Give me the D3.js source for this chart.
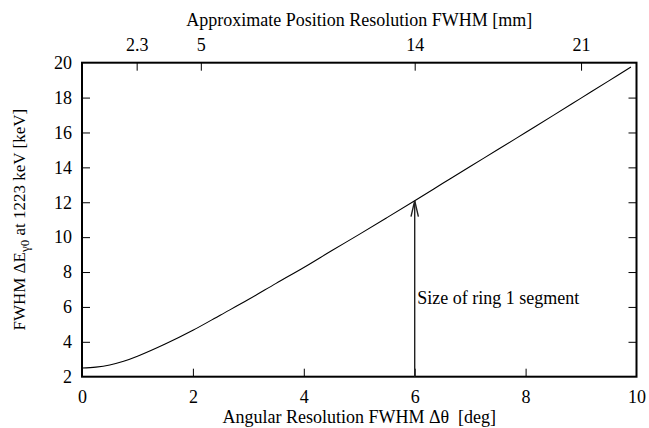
<!DOCTYPE html>
<html><head><meta charset="utf-8">
<script src="https://cdn.jsdelivr.net/npm/d3@7"></script>
</head><body style="margin:0;background:#fff">
<svg id="c" width="649" height="428" font-family="Liberation Serif" style="display:block"></svg>
<script>
const angle = [0, 0.25, 0.5, 0.75, 1, 1.5, 2, 2.5, 3, 3.5, 4, 4.5, 5, 5.5, 6, 6.5, 7, 7.5, 8, 8.5, 9, 9.5, 9.9];
const fwhm  = [2.50, 2.55, 2.67, 2.88, 3.17, 3.87, 4.66, 5.54, 6.42, 7.35, 8.26, 9.22, 10.16, 11.12, 12.09, 13.07, 14.05, 15.02, 16.0, 16.98, 17.97, 18.96, 19.75];
const xTicks = [0, 2, 4, 6, 8, 10];
const yTicks = [2, 4, 6, 8, 10, 12, 14, 16, 18, 20];
const topTicks = [2.3, 5, 14, 21];
const arrowX = 6, arrowY = 12.09;
const annotation = "Size of ring 1 segment";

const FF = "Liberation Serif";
const svg = d3.select("#c");
const L = 82, R = 636.5, T = 62.7, B = 376.7;
const x = d3.scaleLinear().domain([0, 10]).range([L, R]);
const y = d3.scaleLinear().domain([2, 20]).range([B, T]);
const xTop = d3.scaleLinear().domain([0, 70/3]).range([L, R]);
const fs = 18;

function styleAxis(g){ g.attr("font-family", FF).attr("font-size", fs); g.select(".domain").remove();
  g.selectAll("line").attr("stroke","#000").attr("stroke-width",1);
  g.selectAll("text").attr("font-family", FF).attr("font-size", fs).attr("fill","#000"); }

svg.append("g").attr("transform",`translate(0,${B})`)
  .call(d3.axisBottom(x).tickValues(xTicks).tickFormat(d3.format("d")).tickSizeInner(-8).tickSizeOuter(0).tickPadding(14))
  .call(styleAxis).call(g=>g.selectAll(".tick").filter(d=>d===0||d===10).select("line").remove());
svg.append("g").attr("transform",`translate(${L},0)`)
  .call(d3.axisLeft(y).tickValues(yTicks).tickFormat(d3.format("d")).tickSizeInner(-8).tickSizeOuter(0).tickPadding(10))
  .call(styleAxis).call(g=>g.selectAll(".tick").filter(d=>d===2||d===20).select("line").remove());
svg.append("g").attr("transform",`translate(${R},0)`)
  .call(d3.axisRight(y).tickValues(yTicks).tickFormat("").tickSizeInner(-8).tickSizeOuter(0))
  .call(styleAxis).call(g=>g.selectAll(".tick").filter(d=>d===2||d===20).select("line").remove());
svg.append("g").attr("transform",`translate(0,${T})`)
  .call(d3.axisTop(xTop).tickValues(topTicks).tickFormat(d=>String(d)).tickSizeInner(-8).tickSizeOuter(0).tickPadding(12))
  .call(styleAxis);

svg.append("rect").attr("x",L).attr("y",T).attr("width",R-L).attr("height",B-T)
  .attr("fill","none").attr("stroke","#000").attr("stroke-width",2);

const pts = angle.map((a,i)=>[a, fwhm[i]]);
svg.append("path").datum(pts).attr("fill","none").attr("stroke","#000").attr("stroke-width",1.1)
  .attr("d", d3.line().x(d=>x(d[0])).y(d=>y(d[1])).curve(d3.curveCatmullRom));

// arrow
const ax = x(arrowX), ay = y(arrowY);
svg.append("line").attr("x1",ax).attr("x2",ax).attr("y1",B).attr("y2",ay).attr("stroke","#222").attr("stroke-width",1.4);
svg.append("path").attr("d",`M${ax-3.7},${ay+16}L${ax},${ay}L${ax+3.7},${ay+16}`).attr("fill","none").attr("stroke","#222").attr("stroke-width",1.4);
svg.append("text").attr("x",ax+2.5).attr("y",304).attr("font-family",FF).attr("font-size",fs).text(annotation);

// titles
svg.append("text").attr("x",(L+R)/2).attr("y",423).attr("text-anchor","middle").attr("font-family",FF).attr("font-size",fs).attr("xml:space","preserve").text("Angular Resolution FWHM Δθ  [deg]");
svg.append("text").attr("x",(L+R)/2).attr("y",26).attr("text-anchor","middle").attr("font-family",FF).attr("font-size",fs).text("Approximate Position Resolution FWHM [mm]");
const yt = svg.append("text").attr("transform",`translate(25,${(T+B)/2}) rotate(-90)`).attr("text-anchor","middle").attr("font-family",FF).attr("font-size",17);
yt.append("tspan").text("FWHM ΔE");
yt.append("tspan").attr("dy",4).attr("font-size",13).text("γ0");
yt.append("tspan").attr("dy",-4).text(" at 1223 keV [keV]");
</script>
</body></html>
